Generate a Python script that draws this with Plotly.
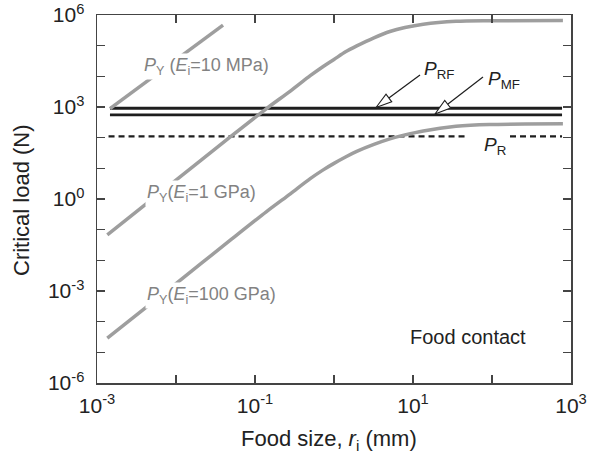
import plotly.graph_objects as go

# ---------------- data ----------------
# food size r_i (mm) sample points for the saturating P_Y curves
r_curve = [1.35e-3, 1.0e-2, 5.0e-2, 0.14, 0.28, 0.50, 0.73, 1.0, 1.4, 1.94,
           3.2, 5.1, 7.9, 13.5, 35, 93, 790]
# P_Y (E_i = 1 GPa)  [N]
py_1gpa = [0.068, 4.1, 112, 890, 3.3e3, 1.05e4, 2.1e4, 3.55e4, 6.3e4, 9.8e4,
           1.8e5, 2.9e5, 3.9e5, 5.0e5, 6.2e5, 6.5e5, 6.6e5]
# P_Y (E_i = 100 GPa)  [N]
py_100gpa = [2.9e-5, 1.74e-3, 0.048, 0.39, 1.48, 4.6, 8.9, 14.5, 23.4, 35.5,
             60, 91, 123, 166, 234, 269, 282]
# P_Y (E_i = 10 MPa)  [N]
r_10mpa = [1.46e-3, 0.0394]
py_10mpa = [890, 4.7e5]

# horizontal critical loads
r_flat = [1.46e-3, 770]
p_rf = [910, 910]
p_mf = [550, 550]
r_pr = [1.4e-3, 50, None, 169, 770]
p_r = [110, 110, None, 110, 110]

# axis ticks
x_tickvals = [1e-3, 1e-2, 1e-1, 1e0, 1e1, 1e2, 1e3]
x_ticktext = ["10<sup>-3</sup>", "", "10<sup>-1</sup>", "", "10<sup>1</sup>", "", "10<sup>3</sup>"]
y_tickvals = [1e-6, 1e-5, 1e-4, 1e-3, 1e-2, 1e-1, 1e0, 1e1, 1e2, 1e3, 1e4, 1e5, 1e6]
y_ticktext = ["10<sup>-6</sup>", "", "", "10<sup>-3</sup>", "", "", "10<sup>0</sup>",
              "", "", "10<sup>3</sup>", "", "", "10<sup>6</sup>"]

# ---------------- layout helpers ----------------
W, H = 589, 455
PL, PR, PT, PB = 97, 571, 15, 383
FONT = "Liberation Sans, Arial, Helvetica, sans-serif"
GRAY = "#9e9e9e"
BLACK = "#1e1e1e"


def px(x):
    return (x - PL) / (PR - PL)


def py(y):
    return (PB - y) / (PB - PT)


fig = go.Figure()

# black horizontal lines
for yy in (p_rf, p_mf):
    fig.add_trace(go.Scatter(x=r_flat, y=yy, mode="lines",
                             line=dict(color=BLACK, width=2.8),
                             hoverinfo="skip", showlegend=False))
fig.add_trace(go.Scatter(x=r_pr, y=p_r, mode="lines", connectgaps=False,
                         line=dict(color=BLACK, width=2.4, dash="6px,4px"),
                         hoverinfo="skip", showlegend=False))

# gray P_Y curves
for xs, ys in ((r_10mpa, py_10mpa), (r_curve, py_1gpa), (r_curve, py_100gpa)):
    fig.add_trace(go.Scatter(x=xs, y=ys, mode="lines",
                             line=dict(color=GRAY, width=3.5, shape="spline", smoothing=0.8),
                             hoverinfo="skip", showlegend=False))

axis_common = dict(
    type="log", showline=True, linecolor="#444", linewidth=1.5, mirror="ticks",
    ticks="inside", ticklen=8, tickwidth=1.3, tickcolor="#444",
    showgrid=False, zeroline=False, automargin=False,
    tickfont=dict(family=FONT, size=21, color="#222"),
)

fig.update_layout(
    template="none",
    width=W, height=H,
    margin=dict(l=PL, r=W - PR, t=PT, b=H - PB, autoexpand=False),
    paper_bgcolor="white", plot_bgcolor="white",
    showlegend=False,
    xaxis=dict(axis_common, range=[-3, 3], tickvals=x_tickvals, ticktext=x_ticktext,
               ticklabelstandoff=3),
    yaxis=dict(axis_common, range=[-6, 6], tickvals=y_tickvals, ticktext=y_ticktext,
               ticklabelstandoff=7),
)

annotations = []


def label(text, x, y, size, color, bg=None, xanchor="center", angle=0):
    d = dict(text=text, x=px(x), y=py(y), xref="paper", yref="paper",
             showarrow=False, xanchor=xanchor, yanchor="middle", textangle=angle,
             font=dict(family=FONT, size=size, color=color))
    if bg:
        d.update(bgcolor=bg, borderpad=1)
    annotations.append(d)


# axis titles
label("Food size, <i>r</i><sub>i</sub> (mm)", 329, 440, 22, "#222")
label("Critical load (N)", 21, 200, 22, "#222", angle=-90)

label("<i>P</i><sub>Y</sub> (<i>E</i><sub>i</sub>=10 MPa)", 206, 66, 18, "#828282", bg="white")
label("<i>P</i><sub>Y</sub>(<i>E</i><sub>i</sub>=1 GPa)", 201, 193, 18, "#828282", bg="white")
label("<i>P</i><sub>Y</sub>(<i>E</i><sub>i</sub>=100 GPa)", 211, 295, 18, "#828282", bg="white")
label("Food contact", 468, 337, 20, "#222")
label("<i>P</i><sub>RF</sub>", 439, 70, 19, "#222")
label("<i>P</i><sub>MF</sub>", 504, 80, 19, "#222")
label("<i>P</i><sub>R</sub>", 495, 146, 19, "#222")

fig.update_layout(annotations=annotations)

# arrows with hollow heads
shapes = []


def arrow(tip, tail, head_len=16, half_w=4.8):
    tx, ty = tip
    lx, ly = tail
    dx, dy = lx - tx, ly - ty
    n = (dx * dx + dy * dy) ** 0.5
    ux, uy = dx / n, dy / n
    bx, by = tx + head_len * ux, ty + head_len * uy
    qx, qy = -uy * half_w, ux * half_w
    shapes.append(dict(type="line", xref="paper", yref="paper",
                       x0=px(bx), y0=py(by), x1=px(lx), y1=py(ly),
                       line=dict(color=BLACK, width=1.2)))
    path = "M {:.5f},{:.5f} L {:.5f},{:.5f} L {:.5f},{:.5f} Z".format(
        px(tx), py(ty), px(bx + qx), py(by + qy), px(bx - qx), py(by - qy))
    shapes.append(dict(type="path", xref="paper", yref="paper", path=path,
                       fillcolor="white", line=dict(color=BLACK, width=1.1)))


arrow((376, 107.5), (420, 75))
arrow((435, 114), (483, 77))
fig.update_layout(shapes=shapes)

fig.write_html(
    "out.html",
    config={"displayModeBar": False, "staticPlot": True},
    post_script="document.body.style.margin='0';document.body.style.overflow='hidden';",
)
